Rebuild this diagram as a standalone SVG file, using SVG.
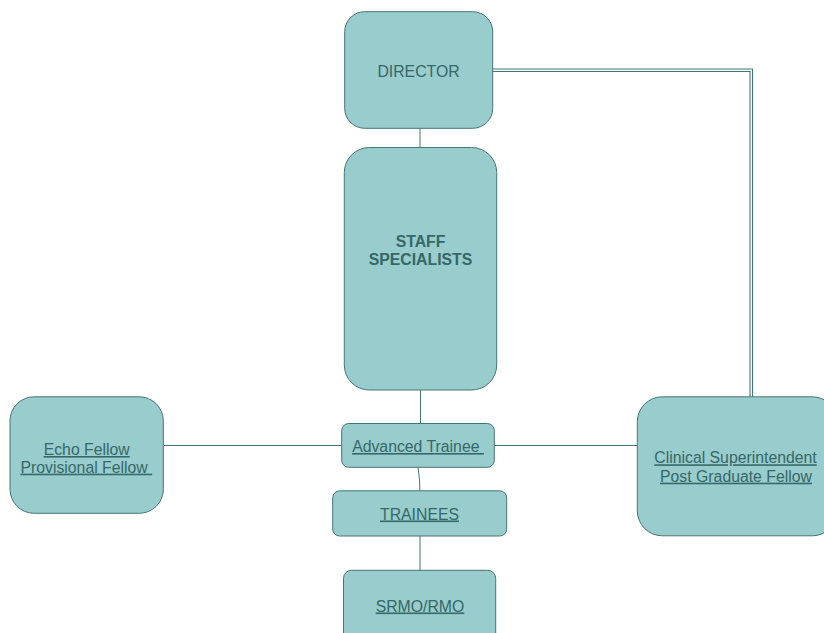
<svg xmlns="http://www.w3.org/2000/svg" width="824" height="633" viewBox="0 0 824 633">
<style>
.box{fill:#99cccc;stroke:#467575;stroke-width:1}
.t{font-family:"Liberation Sans",Arial,sans-serif;font-size:15.8px;fill:#356868;text-anchor:middle}
.u{text-decoration:underline}
.b{font-weight:bold}
.c{fill:none;stroke:#467575;stroke-width:1}
</style>
<rect width="824" height="633" fill="#ffffff"/>
<g id="connectors">
<line class="c" x1="420" y1="128" x2="420" y2="148"/>
<line class="c" x1="420.5" y1="390" x2="420.5" y2="424"/>
<polyline class="c" points="418,467 419.5,480 420,491"/>
<line class="c" x1="420" y1="536" x2="420" y2="571"/>
<line class="c" x1="164" y1="445.5" x2="341.5" y2="445.5"/>
<line class="c" x1="494" y1="445.5" x2="637.5" y2="445.5"/>
<path d="M492.5,70.3 H751.3 V397" fill="none" stroke="#467575" stroke-width="3.6"/>
<path d="M492.5,70.3 H751.3 V397" fill="none" stroke="#ffffff" stroke-width="1.4"/>
</g>
<g id="director">
<rect class="box" x="344.7" y="11.7" width="148" height="116.6" rx="20"/>
<text class="t" x="418.5" y="77">DIRECTOR</text>
</g>
<g id="staff">
<rect class="box" x="344.3" y="147.5" width="152.4" height="242.5" rx="25"/>
<text class="t b" x="420.5" y="247">STAFF</text>
<text class="t b" x="420.5" y="265">SPECIALISTS</text>
</g>
<g id="advanced">
<rect class="box" x="341.7" y="423.5" width="152.6" height="43.8" rx="7"/>
<text class="t u" x="418" y="452" xml:space="preserve">Advanced Trainee </text>
</g>
<g id="trainees">
<rect class="box" x="332.7" y="490.8" width="174" height="45.2" rx="7"/>
<text class="t u" x="419.5" y="519.5">TRAINEES</text>
</g>
<g id="srmo">
<rect class="box" x="343.5" y="570.3" width="152.2" height="80" rx="8"/>
<text class="t u" x="420" y="611.5">SRMO/RMO</text>
</g>
<g id="echo">
<rect class="box" x="10" y="396.8" width="153.3" height="116.5" rx="24"/>
<text class="t u" x="86.7" y="455">Echo Fellow</text>
<text class="t u" x="86.3" y="472.7" xml:space="preserve">Provisional Fellow </text>
</g>
<g id="clinical">
<rect class="box" x="637.3" y="396.8" width="200" height="139" rx="25"/>
<text class="t u" x="735.5" y="463.3">Clinical Superintendent</text>
<text class="t u" x="736" y="481.7">Post Graduate Fellow</text>
</g>
</svg>
